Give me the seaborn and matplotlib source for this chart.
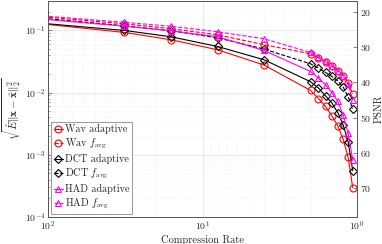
import numpy as np
import pandas as pd
import matplotlib
matplotlib.use("Agg")
import matplotlib.pyplot as plt
import seaborn as sns

# Data (compression rate, error values)
rates = [128, 32, 16, 8, 4, 2, 1.778, 1.6, 1.4545, 1.3333, 1.2308, 1.1429, 1.0667]
wav_adaptive = [0.132, 0.0922, 0.0704, 0.0486, 0.0276, 0.0108, 0.00801, 0.00596, 0.00422, 0.00292, 0.00178, 0.000915, 0.000297]
wav_favg = [0.171, 0.127, 0.106, 0.0847, 0.0585, 0.0419, 0.0361, 0.0312, 0.0264, 0.0223, 0.0186, 0.0143, 0.00953]
dct_adaptive = [0.134, 0.0993, 0.0786, 0.0549, 0.0336, 0.0149, 0.0118, 0.00885, 0.00676, 0.00477, 0.00303, 0.00163, 0.000557]
dct_favg = [0.162, 0.118, 0.0982, 0.0758, 0.0499, 0.0289, 0.0247, 0.0210, 0.0181, 0.0154, 0.0122, 0.00862, 0.00547]
had_adaptive = [0.156, 0.116, 0.0982, 0.0786, 0.0473, 0.0218, 0.0170, 0.0133, 0.0100, 0.00717, 0.00438, 0.00225, 0.000828]
had_favg = [0.176, 0.134, 0.116, 0.0946, 0.0730, 0.0440, 0.0371, 0.0315, 0.0269, 0.0223, 0.0181, 0.0138, 0.00763]

labels = [r"Wav adaptive", r"Wav $f_{\mathrm{avg}}$",
          r"DCT adaptive", r"DCT $f_{\mathrm{avg}}$",
          r"HAD adaptive", r"HAD $f_{\mathrm{avg}}$"]
psnr_ticks = [20, 30, 40, 50, 60, 70]

sns.set_style("white")
plt.rcParams["font.family"] = ["cmr10", "DejaVu Serif"]
plt.rcParams["mathtext.fontset"] = "cm"
plt.rcParams["axes.unicode_minus"] = False
plt.rcParams["axes.formatter.use_mathtext"] = True

fig = plt.figure(figsize=(3.82, 2.44), dpi=100)
ax = fig.add_axes([0.1257, 0.1107, 0.809, 0.887])

series = [wav_adaptive, wav_favg, dct_adaptive, dct_favg, had_adaptive, had_favg]
colors = ["#ff0000", "#ff0000", "#000000", "#000000", "#ff00ff", "#ff00ff"]
markers = ["o", "o", "D", "D", "^", "^"]
styles = ["-", "--", "-", "--", "-", "--"]
msizes = [5, 5, 4, 4, 5, 5]

for vals, lab, c, m, ls, ms in zip(series, labels, colors, markers, styles, msizes):
    df = pd.DataFrame({"rate": rates, "err": vals})
    sns.lineplot(data=df, x="rate", y="err", ax=ax, color=c, marker=m,
                 linestyle=ls, markersize=ms, markerfacecolor="none",
                 markeredgecolor=c, markeredgewidth=0.8, linewidth=0.8,
                 label=lab, sort=False)

ylo, yhi = 1e-4, 0.3
ax.set_xscale("log")
ax.set_yscale("log")
ax.set_xlim(100, 1)
ax.set_ylim(ylo, yhi)
ax.set_xticks([100, 10, 1])
ax.set_yticks([1e-4, 1e-3, 1e-2, 1e-1])
ax.grid(True, which="major", color="#e0e0e0", linewidth=0.5)
ax.grid(True, which="minor", color="#ececec", linewidth=0.4, linestyle=(0, (2, 2)))
for s in ax.spines.values():
    s.set_color("#555555")
    s.set_linewidth(0.6)
ax.tick_params(axis="both", which="major", labelsize=7, length=3, width=0.5,
               direction="in", color="#555555", pad=2)
ax.tick_params(axis="both", which="minor", length=1.5, width=0.4, direction="in", color="#555555")
ax.set_xlabel("Compression Rate", fontsize=7.5, labelpad=1)
ax.set_ylabel(r"$\sqrt{\hat{E}\|\mathbf{x}-\hat{\mathbf{x}}\|_2^2}$", fontsize=8, labelpad=1)

# PSNR axis: linear in log10(error)
def to_psnr(e):
    return 7.51 - 17.67 * np.log10(e)

ax2 = ax.twinx()
ax2.set_ylim(to_psnr(ylo), to_psnr(yhi))
ax2.set_yticks(psnr_ticks)
ax2.tick_params(axis="y", labelsize=7, length=3, width=0.5, direction="in",
                color="#555555", pad=2)
ax2.set_ylabel("PSNR", fontsize=7.5, labelpad=2)
ax2.grid(False)
for s in ax2.spines.values():
    s.set_color("#555555")
    s.set_linewidth(0.6)

leg = ax.legend(loc="lower left", fontsize=7.3, frameon=True, fancybox=False,
                edgecolor="#888888", framealpha=1, borderpad=0.25, labelspacing=0.28,
                handlelength=0.9, handletextpad=0.25, borderaxespad=0.3)
leg.get_frame().set_linewidth(0.6)

fig.savefig("out.png", dpi=100)
